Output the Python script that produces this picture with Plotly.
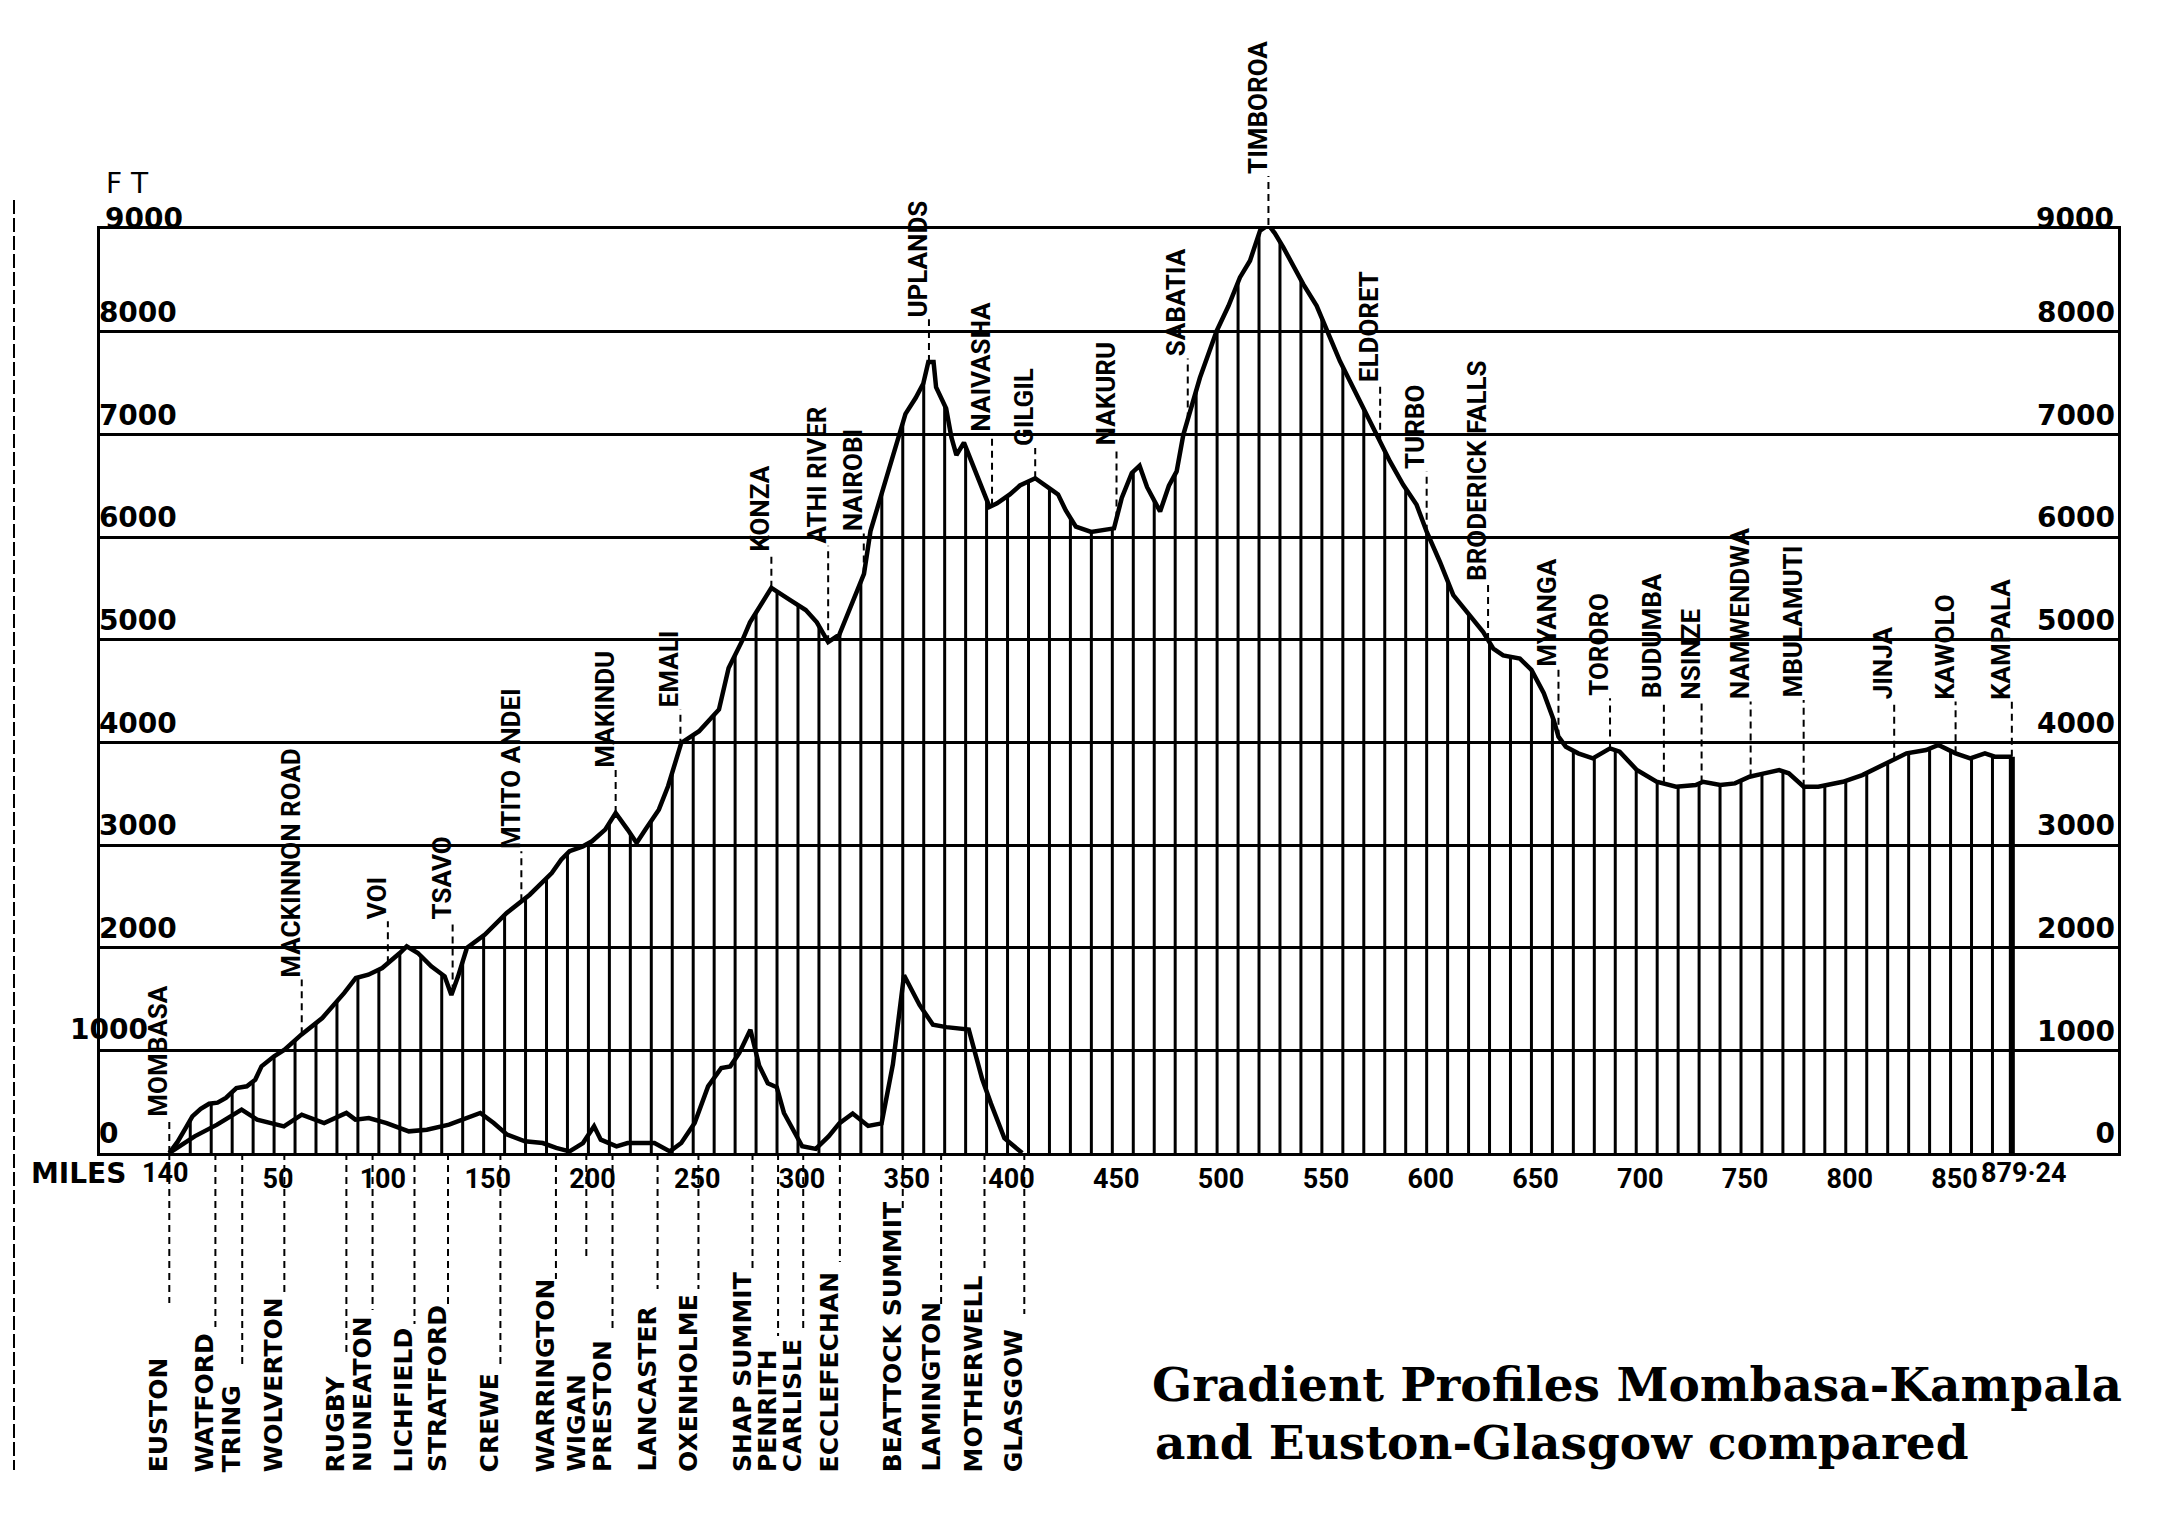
import numpy as np
import plotly.graph_objects as go

# ---------------- data ----------------
# Mombasa - Kampala profile (miles, feet)
mk_miles = [0, 4, 8, 11, 15, 19, 23, 27, 32, 37, 41, 44, 50, 55, 63, 73, 83.5, 89, 95, 101.6,
            110, 113.3, 118.6, 125, 131.4, 134.6, 137.8, 142, 150.6, 161, 172, 182.5, 187, 191,
            197.4, 201.7, 208, 213, 218.7, 223, 227.2, 233.6, 238, 244.3, 252.8, 259.2, 262.3,
            266.9, 273.5, 277.1, 287.3, 296.3, 303.7, 309, 314.4, 319.7, 326.1, 331.5, 334.6,
            339.2, 342.8, 347.4, 351.3, 356.2, 359.8, 362.2, 364.7, 365.9, 370.7, 373.2, 375.6,
            379.2, 382.9, 387.7, 391.4, 395, 401.1, 405.9, 413.2, 421.7, 424.1, 427.8, 432.6,
            439.9, 450.8, 454.5, 459.3, 463, 466.6, 472.8, 477, 480.7, 483.9, 491.8, 499.8,
            505.4, 510.9, 515.7, 520.5, 524.5, 527.5, 531.6, 541.1, 547.5, 552.3, 558.6, 563.4,
            569.7, 576.1, 582.5, 588.8, 595.2, 600, 606.3, 612.7, 620.6, 627, 631.8, 636.5,
            644.5, 650, 655.9, 660.6, 662.9, 666.4, 672.3, 679.3, 687.5, 692.1, 700.3, 709.7,
            719, 728.4, 731.9, 740.1, 747.1, 754.1, 761.1, 768.2, 772.8, 779.9, 786.9, 798.6,
            807.9, 819.6, 829, 838.3, 844.2, 852.4, 859.4, 866.4, 871.1, 879.24]
mk_ft = [0, 110, 250, 357, 430, 480, 490, 536, 633, 650, 714, 844, 942, 1007, 1153, 1315, 1559,
         1705, 1737, 1802, 1948, 2013, 1948, 1818, 1721, 1540, 1721, 1997, 2127, 2338, 2516, 2727,
         2857, 2939, 2987, 3036, 3150, 3312, 3150, 3020, 3150, 3344, 3572, 3994, 4108, 4254, 4320,
         4725, 4995, 5169, 5505, 5385, 5289, 5169, 4976, 5048, 5385, 5640, 6058, 6380, 6624, 6924,
         7199, 7356, 7495, 7704, 7704, 7460, 7251, 6972, 6798, 6920, 6728, 6485, 6293, 6328, 6415,
         6502, 6572, 6450, 6415, 6258, 6101, 6049, 6084, 6380, 6624, 6694, 6485, 6248, 6500, 6639,
         6997, 7551, 8007, 8250, 8528, 8691, 8984, 9040, 8960, 8821, 8463, 8251, 8007, 7713, 7518,
         7257, 6997, 6736, 6508, 6313, 6052, 5759, 5434, 5238, 5075, 4912, 4847, 4815, 4706, 4478,
         4218, 4055, 3958, 3893, 3844, 3941, 3909, 3730, 3616, 3567, 3584, 3616, 3584, 3600, 3665,
         3698, 3730, 3698, 3567, 3567, 3616, 3681, 3795, 3893, 3925, 3974, 3893, 3844, 3893, 3860,
         3860]

# Euston - Glasgow profile (miles, feet)
eg_miles = [0, 5.7, 12.1, 22.8, 34.5, 41.9, 54.7, 63.2, 73.9, 84.5, 88.8, 95.2, 103.7, 114.3,
            122.9, 133.5, 148.4, 154.8, 161.2, 169.7, 178.2, 184.6, 191, 197.4, 202.7, 205.9,
            213.4, 218.7, 231.5, 238.9, 244.3, 250.7, 257.1, 263.4, 267.7, 272, 277.3, 281.5,
            285.6, 289.9, 293.3, 302, 308.5, 314.6, 319.7, 326.1, 333.5, 339.9, 345.3, 350.6,
            358, 364.4, 370.8, 381.5, 387.9, 392.1, 398.5, 407]
eg_ft = [0, 81, 162, 276, 422, 325, 260, 373, 292, 390, 325, 341, 292, 211, 227, 276, 390, 292,
         179, 114, 97, 49, 16, 97, 260, 130, 65, 97, 97, 16, 97, 292, 649, 828, 844, 974, 1201,
         850, 680, 640, 390, 65, 40, 162, 288, 385, 264, 288, 865, 1731, 1442, 1250, 1226, 1202,
         721, 481, 144, 0]

# Stations on the Mombasa - Kampala line
upper_names = ["MOMBASA", "MACKINNON ROAD", "VOI", "TSAVO", "MTITO ANDEI", "MAKINDU", "EMALI",
               "KONZA", "ATHI RIVER", "NAIROBI", "UPLANDS", "NAIVASHA", "GILGIL", "NAKURU",
               "SABATIA", "TIMBOROA", "ELDORET", "TURBO", "BRODERICK FALLS", "MYANGA", "TORORO",
               "BUDUMBA", "NSINZE", "NAMWENDWA", "MBULAMUTI", "JINJA", "KAWOLO", "KAMPALA"]
upper_miles = [0, 63.2, 104.3, 135.2, 168, 213, 243.9, 287.3, 314.4, 331.4, 362.5, 392.6, 413.2,
               452, 486, 524.5, 577.8, 600, 629.3, 662.9, 687.5, 713.2, 731.2, 754.6, 779.9,
               823.1, 852.4, 879.24]
# feet level where each rotated name starts
upper_label_ft = [337, 1690, 2257, 2257, 2939, 3734, 4320, 5841, 5914, 6034, 8122, 7007, 6868,
                  6868, 7739, 9516, 7485, 6639, 5548, 4722, 4429, 4413, 4397, 4397, 4413, 4397,
                  4397, 4397]

# Stations on the Euston - Glasgow line
lower_names = ["EUSTON", "WATFORD", "TRING", "WOLVERTON", "RUGBY", "NUNEATON", "LICHFIELD",
               "STRATFORD", "CREWE", "WARRINGTON", "WIGAN", "PRESTON", "LANCASTER", "OXENHOLME",
               "SHAP SUMMIT", "PENRITH", "CARLISLE", "ECCLEFECHAN", "BEATTOCK SUMMIT",
               "LAMINGTON", "MOTHERWELL", "GLASGOW"]
lower_miles = [0, 22.0, 34.8, 54.9, 84.5, 97.0, 117.0, 133.0, 158.0, 184.5, 199.0, 211.5, 233.0,
               252.5, 278.3, 290.5, 302.5, 320.0, 350.0, 368.3, 389.0, 408.0]
# pixel row where each leader line stops
lower_dash_end_px = [1303, 1327, 1369, 1296, 1355, 1310, 1324, 1305, 1369, 1279, 1258, 1331,
                     1289, 1289, 1269, 1336, 1329, 1262, 1210, 1305, 1272, 1314]

# mileage axis
x_tick_vals = [50, 100, 150, 200, 250, 300, 350, 400, 450, 500, 550, 600, 650, 700, 750, 800, 850]
x_tick_text = [str(v) for v in x_tick_vals]
x_start_label = "140"
x_end_val = 879.24
x_end_label = "879·24"
# height axis
y_tick_vals = [0, 1000, 2000, 3000, 4000, 5000, 6000, 7000, 8000, 9000]
y_tick_text = [str(v) for v in y_tick_vals]
hatch_step = 10

# ---------------- geometry ----------------
W, H = 2176, 1530
L, R, T, B = 100, 58, 229, 377
PW, PH = W - L - R, H - T - B
PX_PER_MILE = 2.0956
X0_PX = 169.3
x_range = [-(X0_PX - L) / PX_PER_MILE, (PW - (X0_PX - L)) / PX_PER_MILE]
YMAX = 9000


def py_paper(px):
    return (H - B - px) / PH


def px_paper(px):
    return (px - L) / PW


fig = go.Figure()

# hatching down to the Mombasa-Kampala profile
hm = np.arange(hatch_step, 879.24, hatch_step)
hh = np.interp(hm, mk_miles, mk_ft)
hx, hy = [], []
for m, h in zip(hm, hh):
    hx += [m, m, None]
    hy += [0, h, None]
fig.add_trace(go.Scatter(x=hx, y=hy, mode="lines", line=dict(color="black", width=3),
                         hoverinfo="skip", showlegend=False))
fig.add_trace(go.Scatter(x=[mk_miles[-1], mk_miles[-1]], y=[0, mk_ft[-1]], mode="lines",
                         line=dict(color="black", width=6), hoverinfo="skip", showlegend=False))

fig.add_trace(go.Scatter(x=mk_miles, y=mk_ft, mode="lines", name="Mombasa-Kampala",
                         line=dict(color="black", width=4.5), showlegend=False))
fig.add_trace(go.Scatter(x=eg_miles, y=eg_ft, mode="lines", name="Euston-Glasgow",
                         line=dict(color="black", width=4.5), showlegend=False))
# dummy trace for the right-hand axis
fig.add_trace(go.Scatter(x=[None], y=[None], yaxis="y2", showlegend=False, hoverinfo="skip"))

shapes = []
annotations = []
dash = "7px,5px"

ufont = dict(family="Roboto", size=26, color="black", weight="bold")
for name, m, lf in zip(upper_names, upper_miles, upper_label_ft):
    base = float(np.interp(m, mk_miles, mk_ft))
    shapes.append(dict(type="line", xref="x", yref="paper", x0=m, x1=m,
                       y0=base / YMAX, y1=lf / YMAX,
                       line=dict(color="black", width=2, dash=dash)))
    annotations.append(dict(x=m, xref="x", y=lf / YMAX, yref="paper", text=name,
                            textangle=-90, xanchor="right", yanchor="bottom", xshift=6,
                            showarrow=False, font=ufont))

lfont = dict(family="DejaVu Sans", size=25, color="black", weight="bold")
label_bottom = py_paper(1474)
for name, m, e in zip(lower_names, lower_miles, lower_dash_end_px):
    shapes.append(dict(type="line", xref="x", yref="paper", x0=m, x1=m,
                       y0=0, y1=py_paper(e),
                       line=dict(color="black", width=2, dash=dash)))
    annotations.append(dict(x=m, xref="x", y=label_bottom, yref="paper", text=name,
                            textangle=-90, xanchor="right", yanchor="bottom", xshift=6,
                            showarrow=False, font=lfont))

# scan edge line on the left
shapes.append(dict(type="line", xref="paper", yref="paper",
                   x0=px_paper(14), x1=px_paper(14), y0=py_paper(200), y1=py_paper(1470),
                   line=dict(color="black", width=2, dash="14px,4px")))

tfont = dict(family="DejaVu Sans", size=28, color="black", weight="bold")
xfont = dict(family="Roboto", size=27, color="black", weight="bold")

# tick labels that sit outside the frame or straddle the axis line
annotations.append(dict(x=px_paper(103), xref="paper", y=py_paper(218), yref="paper",
                        text=y_tick_text[-1], xanchor="left", yanchor="middle",
                        showarrow=False, font=tfont))
annotations.append(dict(x=px_paper(2116), xref="paper", y=py_paper(218), yref="paper",
                        text=y_tick_text[-1], xanchor="right", yanchor="middle",
                        showarrow=False, font=tfont))
annotations.append(dict(x=px_paper(68), xref="paper", y=1000 / YMAX, yref="paper",
                        text=y_tick_text[1], xanchor="left", yanchor="bottom", yshift=2,
                        showarrow=False, font=tfont))
annotations.append(dict(x=0, xref="x", y=py_paper(1173), yref="paper", text=x_start_label,
                        xanchor="center", yanchor="middle", xshift=-4, showarrow=False,
                        font=xfont))
annotations.append(dict(x=x_end_val, xref="x", y=py_paper(1173), yref="paper",
                        text=x_end_label, xanchor="left", yanchor="middle", xshift=-33,
                        showarrow=False, font=xfont))
annotations.append(dict(x=px_paper(104), xref="paper", y=py_paper(183), yref="paper",
                        text="F T", xanchor="left", yanchor="middle", showarrow=False,
                        font=dict(family="DejaVu Sans", size=28, color="black")))
annotations.append(dict(x=px_paper(128), xref="paper", y=py_paper(1173), yref="paper",
                        text="MILES", xanchor="right", yanchor="middle", showarrow=False,
                        font=tfont))
title_font = dict(family="DejaVu Serif", size=47, color="black", weight="bold")
annotations.append(dict(x=px_paper(1150), xref="paper", y=py_paper(1384), yref="paper",
                        text="Gradient Profiles Mombasa-Kampala", xanchor="left",
                        yanchor="middle", showarrow=False, font=title_font))
annotations.append(dict(x=px_paper(1153), xref="paper", y=py_paper(1442), yref="paper",
                        text="and Euston-Glasgow compared", xanchor="left",
                        yanchor="middle", showarrow=False, font=title_font))

left_text = [("" if v in (1000, 9000) else t) for v, t in zip(y_tick_vals, y_tick_text)]
right_text = [("" if v == 9000 else t) for v, t in zip(y_tick_vals, y_tick_text)]

fig.update_layout(
    width=W, height=H,
    margin=dict(l=L, r=R, t=T, b=B, autoexpand=False),
    paper_bgcolor="white", plot_bgcolor="white",
    showlegend=False,
    shapes=shapes, annotations=annotations,
    xaxis=dict(range=x_range, showgrid=False, zeroline=False, showline=True, mirror=True,
               linecolor="black", linewidth=3, ticks="", tickvals=x_tick_vals,
               ticktext=x_tick_text, tickangle=0, tickfont=xfont, ticklabelshift=4,
               automargin=False, fixedrange=True),
    yaxis=dict(range=[0, YMAX], showgrid=True, gridcolor="black", gridwidth=3, zeroline=False,
               showline=True, mirror=True, linecolor="black", linewidth=3, ticks="",
               tickvals=y_tick_vals, ticktext=left_text,
               ticklabelposition="inside top", tickfont=tfont,
               automargin=False, fixedrange=True),
    yaxis2=dict(range=[0, YMAX], overlaying="y", side="right", showgrid=False, zeroline=False,
                showline=False, ticks="", tickvals=y_tick_vals, ticktext=right_text,
                ticklabelposition="inside top", tickfont=tfont, automargin=False,
                fixedrange=True),
)

fig.write_html("out.html")
